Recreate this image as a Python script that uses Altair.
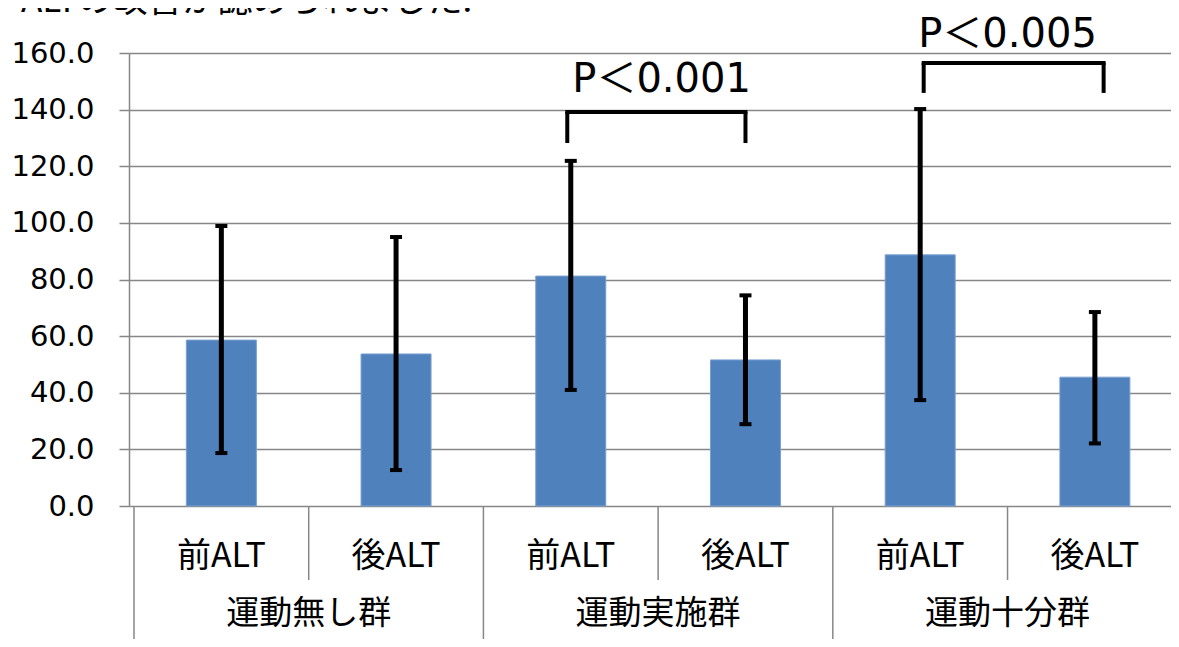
import altair as alt
import pandas as pd

# ---- data ----
groups = ["運動無し群", "運動実施群", "運動十分群"]
timing = ["前ALT", "後ALT", "前ALT", "後ALT", "前ALT", "後ALT"]
means = [58.6, 53.7, 81.2, 51.6, 88.7, 45.5]
err_low = [18.7, 12.7, 41.0, 28.9, 37.4, 22.1]
err_high = [98.9, 95.0, 121.9, 74.4, 140.2, 68.5]
p_labels = ["P＜0.001", "P＜0.005"]
bracket_left = [2.48, 4.52]
bracket_right = [3.5, 5.55]
bracket_top = [139.2, 156.5]
bracket_leg = [128.2, 145.9]
p_label_x = [3.02, 5.0]
p_label_y = [146.2, 162.1]
headline = "ALTの改善が認められました."

pos = [i + 0.5 for i in range(6)]
bars = pd.DataFrame({"pos": pos, "mean": means, "lo": err_low, "hi": err_high, "label": timing})
grp = pd.DataFrame({"pos": [1.0, 3.0, 5.0], "label": groups})
inner_sep = pd.DataFrame({"pos": [1.0, 3.0, 5.0]})
outer_sep = pd.DataFrame({"pos": [0.0, 2.0, 4.0, 6.0]})
br = pd.DataFrame({"x1": bracket_left, "x2": bracket_right, "top": bracket_top,
                   "leg": bracket_leg, "label": p_labels, "lx": p_label_x, "ly": p_label_y})
br_legs = pd.DataFrame({"x": bracket_left + bracket_right,
                        "top": bracket_top + bracket_top,
                        "leg": bracket_leg + bracket_leg})

W, H = 1042, 453
XMAX = W / 176.4
xs = alt.Scale(domain=[0, XMAX], nice=False, zero=False)
ys = alt.Scale(domain=[0, 160], nice=False)
GRAY = "#878787"
NUM_FONT = "DejaVu Sans, Noto Sans CJK JP"
JP_FONT = "Noto Sans CJK JP"

base = alt.Chart(bars)

bar_layer = base.mark_bar(size=70, color="#4F81BD", stroke="#7aa0d0", strokeWidth=1).encode(
    x=alt.X("pos:Q", scale=xs, axis=None),
    y=alt.Y("mean:Q", scale=ys, title=None,
            axis=alt.Axis(values=list(range(0, 161, 20)), format=".1f", grid=True,
                          gridColor=GRAY, gridWidth=1.5, domainColor=GRAY, domainWidth=1.5,
                          tickColor=GRAY, tickWidth=1.5, tickSize=10,
                          labelFont=NUM_FONT, labelFontSize=29, labelColor="black",
                          labelPadding=25)),
)

err_line = base.mark_rule(color="black", strokeWidth=5).encode(
    x=alt.X("pos:Q", scale=xs), y=alt.Y("lo:Q", scale=ys), y2="hi:Q")
cap_hi = base.mark_rule(color="black", strokeWidth=4, xOffset=-6, x2Offset=6).encode(
    x=alt.X("pos:Q", scale=xs), x2="pos:Q", y=alt.Y("hi:Q", scale=ys))
cap_lo = base.mark_rule(color="black", strokeWidth=4, xOffset=-6, x2Offset=6).encode(
    x=alt.X("pos:Q", scale=xs), x2="pos:Q", y=alt.Y("lo:Q", scale=ys))

br_h = alt.Chart(br).mark_rule(color="black", strokeWidth=4, strokeCap="square").encode(
    x=alt.X("x1:Q", scale=xs), x2="x2:Q", y=alt.Y("top:Q", scale=ys))
br_v = alt.Chart(br_legs).mark_rule(color="black", strokeWidth=4).encode(
    x=alt.X("x:Q", scale=xs), y=alt.Y("top:Q", scale=ys), y2="leg:Q")
br_txt = alt.Chart(br).mark_text(font=NUM_FONT, fontSize=40, color="black",
                                 align="center", baseline="alphabetic").encode(
    x=alt.X("lx:Q", scale=xs), y=alt.Y("ly:Q", scale=ys), text="label:N")

lbl1 = base.mark_text(font=JP_FONT, fontSize=34, color="black", align="center",
                      baseline="middle").encode(
    x=alt.X("pos:Q", scale=xs), y=alt.value(504), text="label:N")
lbl2 = alt.Chart(grp).mark_text(font=JP_FONT, fontSize=33, color="black", align="center",
                                baseline="middle").encode(
    x=alt.X("pos:Q", scale=xs), y=alt.value(561), text="label:N")

sep_in = alt.Chart(inner_sep).mark_rule(color=GRAY, strokeWidth=1.5).encode(
    x=alt.X("pos:Q", scale=xs), y=alt.value(H), y2=alt.value(527))
sep_out = alt.Chart(outer_sep).mark_rule(color=GRAY, strokeWidth=1.5).encode(
    x=alt.X("pos:Q", scale=xs), y=alt.value(H), y2=alt.value(H + 140))

head = alt.Chart(pd.DataFrame({"t": [headline]})).mark_text(
    font=JP_FONT, fontSize=35, color="black", align="left", baseline="alphabetic").encode(
    x=alt.value(-108), y=alt.value(-41), text="t:N")

chart = alt.layer(
    bar_layer, err_line, cap_hi, cap_lo, br_h, br_v, br_txt,
    sep_in, sep_out, lbl1, lbl2, head
).properties(
    width=W, height=H,
    autosize=alt.AutoSizeParams(type="none"),
    padding={"left": 121, "top": 45, "right": 0, "bottom": 133},
    background="white",
).configure_view(stroke=None)

chart.save("out.html", embed_options={"renderer": "svg", "actions": False})
